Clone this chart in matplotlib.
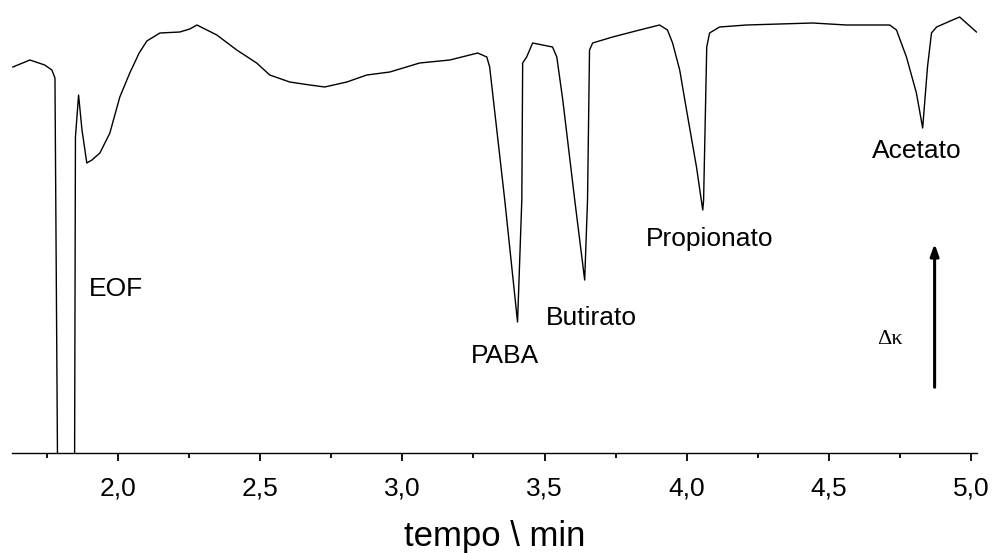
"""Electropherogram: EOF and carboxylate peaks (conductivity detection)."""
import matplotlib
matplotlib.use("Agg")
import matplotlib.pyplot as plt
from matplotlib.ticker import MultipleLocator, FuncFormatter

plt.rcParams['font.family'] = ['Liberation Sans', 'DejaVu Sans']

# migration time (min) and detector signal (arbitrary units)
tempo = [1.631, 1.691, 1.743, 1.768, 1.775, 1.779, 1.788, 1.848, 1.851,
         1.862, 1.874, 1.891, 1.909, 1.937, 1.972, 2.007, 2.042, 2.075,
         2.102, 2.148, 2.218, 2.253, 2.278, 2.348, 2.418, 2.488, 2.534,
         2.604, 2.675, 2.727, 2.805, 2.875, 2.956, 3.061, 3.167, 3.265,
         3.297, 3.307, 3.360, 3.405, 3.420, 3.423, 3.437, 3.458, 3.528,
         3.543, 3.564, 3.606, 3.641, 3.651, 3.658, 3.669, 3.739, 3.834,
         3.904, 3.932, 3.950, 3.975, 3.999, 4.034, 4.056, 4.059, 4.070,
         4.080, 4.115, 4.210, 4.442, 4.561, 4.713, 4.737, 4.772, 4.807,
         4.829, 4.846, 4.860, 4.878, 4.934, 4.959, 5.018]
sinal = [386, 393, 388, 383, 378, 375, -10, -10, 316,
         358, 323, 290, 293, 300, 320, 356, 380, 400,
         412, 420, 421, 424, 428, 418, 403, 390, 378,
         371, 368, 366, 371, 378, 381, 390, 393, 400,
         396, 386, 253, 131, 253, 390, 396, 410, 406,
         396, 353, 253, 173, 253, 403, 410, 416, 423,
         428, 423, 410, 383, 343, 286, 243, 253, 406,
         420, 426, 428, 430, 428, 428, 423, 396, 360,
         325, 386, 420, 426, 433, 436, 421]

# peak labels: text, x, y
picos = ["EOF", "PABA", "Butirato", "Propionato", "Acetato"]
picos_x = [1.993, 3.362, 3.665, 4.080, 4.807]
picos_y = [164, 97, 135, 214, 302]

fig = plt.figure(figsize=(9.95, 5.53), dpi=100)
ax = fig.add_axes([12 / 995, 100 / 553, 965 / 995, 453 / 553])

ax.plot(tempo, sinal, color="black", lw=1.0)

for nome, px, py in zip(picos, picos_x, picos_y):
    ax.text(px, py, nome, ha="center", va="center", fontsize=19)

# delta kappa arrow
ax.annotate("", xy=(4.871, 212), xytext=(4.871, 63),
            arrowprops=dict(arrowstyle="-|>,head_length=0.7,head_width=0.25",
                            color="black", lw=2.2))
ax.text(4.715, 113, "\u0394\u03ba", ha="center", va="center", fontsize=16,
        family=["Liberation Serif", "DejaVu Serif"])

ax.set_xlim(1.628, 5.02)
ax.set_ylim(0, 453)
for s in ["left", "right", "top"]:
    ax.spines[s].set_visible(False)
ax.spines["bottom"].set_linewidth(1.0)
ax.set_yticks([])
ax.xaxis.set_major_locator(MultipleLocator(0.5))
ax.xaxis.set_minor_locator(MultipleLocator(0.25))
ax.xaxis.set_major_formatter(FuncFormatter(lambda v, p: ("%.1f" % v).replace(".", ",")))
ax.tick_params(axis="x", which="major", length=6, width=1.3, labelsize=19, pad=11)
ax.tick_params(axis="x", which="minor", length=3.5, width=1.3)
ax.set_xlabel("tempo \\ min", fontsize=25, labelpad=14)

fig.savefig("out.png", dpi=100)
